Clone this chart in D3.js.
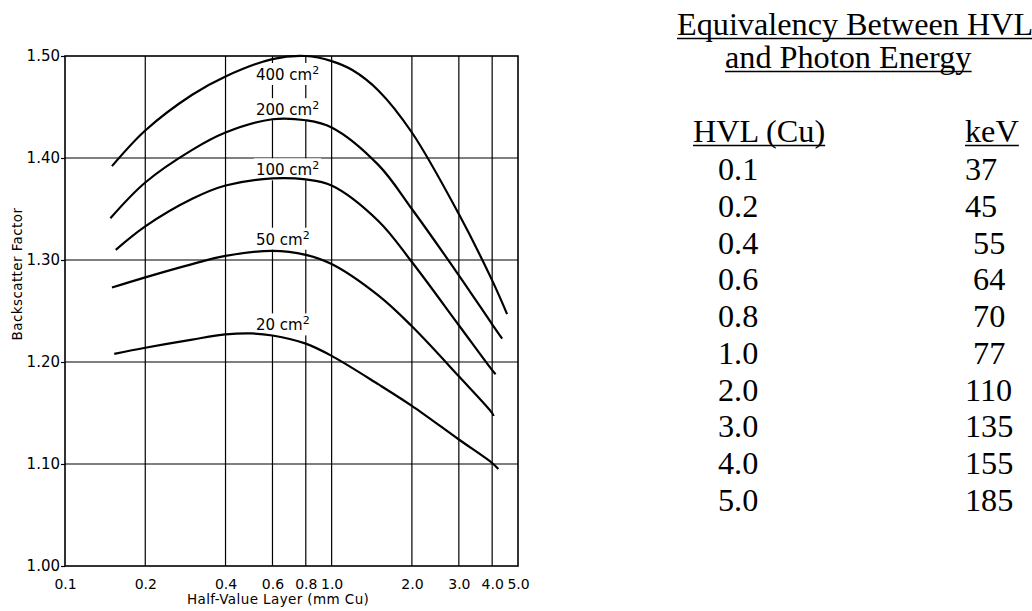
<!DOCTYPE html>
<html>
<head>
<meta charset="utf-8">
<script src="https://cdn.jsdelivr.net/npm/d3@7"></script>
<style>
  body { margin: 0; background: #fff; }
  svg { display: block; }
  .lbl { font-family: "DejaVu Sans", sans-serif; fill: #000; }
  .tbl { font-family: "Liberation Serif", "Times New Roman", serif; font-size: 31px; fill: #000; white-space: pre; }
</style>
</head>
<body>
<div id="chart"></div>
<script>
// axis ticks
let hvlTicks = [0.1, 0.2, 0.4, 0.6, 0.8, 1.0, 2.0, 3.0, 4.0, 5.0]
let hvlTickLabels = ["0.1", "0.2", "0.4", "0.6", "0.8", "1.0", "2.0", "3.0", "4.0", "5.0"]
let bsfTicks = [1.0, 1.1, 1.2, 1.3, 1.4, 1.5]
let bsfTickLabels = ["1.00", "1.10", "1.20", "1.30", "1.40", "1.50"]

// curves (HVL mm Cu -> backscatter factor)
let hvl400 = [0.15, 0.2, 0.3, 0.4, 0.6, 0.8, 1.0, 1.2, 1.5, 2.0, 3.0, 4.0, 4.55]
let bsf400 = [1.392, 1.427, 1.462, 1.480, 1.497, 1.500, 1.495, 1.486, 1.466, 1.425, 1.345, 1.28, 1.247]
let hvl200 = [0.148, 0.2, 0.3, 0.4, 0.6, 0.8, 1.0, 1.5, 2.0, 3.0, 4.0, 4.36]
let bsf200 = [1.341, 1.376, 1.408, 1.425, 1.438, 1.437, 1.430, 1.393, 1.35, 1.285, 1.237, 1.223]
let hvl100 = [0.155, 0.2, 0.3, 0.4, 0.6, 0.8, 1.0, 1.5, 2.0, 3.0, 4.0, 4.12]
let bsf100 = [1.310, 1.333, 1.360, 1.373, 1.380, 1.379, 1.373, 1.338, 1.298, 1.236, 1.192, 1.188]
let hvl50 = [0.15, 0.2, 0.3, 0.4, 0.6, 0.8, 1.0, 1.5, 2.0, 3.0, 4.0, 4.05]
let bsf50 = [1.273, 1.283, 1.296, 1.304, 1.309, 1.305, 1.296, 1.265, 1.235, 1.186, 1.150, 1.147]
let hvl20 = [0.153, 0.2, 0.3, 0.4, 0.5, 0.6, 0.8, 1.0, 1.5, 2.0, 3.0, 4.0, 4.22]
let bsf20 = [1.208, 1.214, 1.222, 1.227, 1.228, 1.226, 1.218, 1.206, 1.178, 1.157, 1.124, 1.101, 1.095]

// field size labels and where they sit
let fieldSizes = ["400", "200", "100", "50", "20"]
let labelHvl = 0.52
let labelBsf = [1.4765, 1.442, 1.383, 1.315, 1.231]

// table on the right
let tableHvl = ["0.1", "0.2", "0.4", "0.6", "0.8", "1.0", "2.0", "3.0", "4.0", "5.0"]
let tableKev = ["37", "45", " 55", " 64", " 70", " 77", "110", "135", "155", "185"]

let width = 1032,
  height = 611

let svg = d3.select("#chart").append("svg")
  .attr("width", width)
  .attr("height", height)

let x = d3.scaleLog()
  .domain([0.1, 5.0])
  .range([65, 518])

let y = d3.scaleLinear()
  .domain([1.0, 1.5])
  .range([566, 56])

// grid
svg.append("g").selectAll("line")
  .data(hvlTicks.slice(1, -1))
  .enter().append("line")
  .attr("x1", d => x(d)).attr("x2", d => x(d))
  .attr("y1", y(1.0)).attr("y2", y(1.5))
  .attr("stroke", "#000").attr("stroke-width", 1.2)

svg.append("g").selectAll("line")
  .data(bsfTicks.slice(1, -1))
  .enter().append("line")
  .attr("x1", x(0.1)).attr("x2", x(5.0))
  .attr("y1", d => y(d)).attr("y2", d => y(d))
  .attr("stroke", "#000").attr("stroke-width", 1.2)

// axes
let xAxis = d3.axisBottom(x)
  .tickValues(hvlTicks)
  .tickFormat((d, i) => hvlTickLabels[i])
  .tickSize(0)
  .tickPadding(13)

let yAxis = d3.axisLeft(y)
  .tickValues(bsfTicks)
  .tickFormat((d, i) => bsfTickLabels[i])
  .tickSize(4)
  .tickPadding(1)

let gx = svg.append("g").attr("transform", "translate(0," + y(1.0) + ")").call(xAxis)
let gy = svg.append("g").attr("transform", "translate(" + x(0.1) + ",0)").call(yAxis)
gx.select(".domain").remove()
gy.select(".domain").remove()
gx.selectAll("text").attr("class", "lbl").style("font-size", "14px").attr("fill", "#000")
gy.selectAll("text").attr("class", "lbl").style("font-size", "15px").attr("fill", "#000")
gy.selectAll("line").attr("stroke", "#000").attr("stroke-width", 1.2)

// frame
svg.append("rect")
  .attr("x", x(0.1)).attr("y", y(1.5))
  .attr("width", x(5.0) - x(0.1)).attr("height", y(1.0) - y(1.5))
  .attr("fill", "none").attr("stroke", "#000").attr("stroke-width", 1.6)

svg.append("text")
  .attr("class", "lbl")
  .attr("x", 187).attr("y", 604)
  .style("font-size", "13.5px")
  .style("letter-spacing", "0.4px")
  .text("Half-Value Layer (mm Cu)")

svg.append("text")
  .attr("class", "lbl")
  .attr("transform", "translate(22,274) rotate(-90)")
  .attr("text-anchor", "middle")
  .style("font-size", "13.5px")
  .style("letter-spacing", "0.4px")
  .text("Backscatter Factor")

// labels with white backing so the grid breaks around them
let labels = svg.append("g").selectAll("g")
  .data(fieldSizes)
  .enter().append("g")
  .attr("transform", (d, i) => "translate(" + x(labelHvl) + "," + y(labelBsf[i]) + ")")

labels.append("rect").attr("fill", "#fff")
let labelText = labels.append("text")
  .attr("class", "lbl")
  .style("font-size", "15px")
labelText.append("tspan").text(d => d + " cm")
labelText.append("tspan").attr("dy", -6).style("font-size", "11px").text("2")
labels.each(function () {
  let b = d3.select(this).select("text").node().getBBox()
  d3.select(this).select("rect")
    .attr("x", b.x - 2).attr("y", b.y - 1)
    .attr("width", b.width + 4).attr("height", b.height + 2)
})

// curves
let series = [
  d3.zip(hvl400, bsf400),
  d3.zip(hvl200, bsf200),
  d3.zip(hvl100, bsf100),
  d3.zip(hvl50, bsf50),
  d3.zip(hvl20, bsf20)
]

let line = d3.line()
  .x(d => x(d[0]))
  .y(d => y(d[1]))
  .curve(d3.curveCatmullRom.alpha(0.5))

svg.append("g").selectAll("path")
  .data(series)
  .enter().append("path")
  .attr("d", line)
  .attr("fill", "none")
  .attr("stroke", "#000")
  .attr("stroke-width", 2.2)

// table
let tbl = svg.append("g")

function tblText(tx, ty, str) {
  return tbl.append("text")
    .attr("class", "tbl")
    .attr("transform", "translate(" + tx + "," + ty + ") scale(1.04,1)")
    .text(str)
}

function underlined(tx, ty, str) {
  let t = tblText(tx, ty, str)
  let w = t.node().getBBox().width * 1.04
  tbl.append("line")
    .attr("x1", tx).attr("x2", tx + w)
    .attr("y1", ty + 3.5).attr("y2", ty + 3.5)
    .attr("stroke", "#000").attr("stroke-width", 1.6)
}

underlined(677, 35, "Equivalency Between HVL")
underlined(725, 68, "and Photon Energy")
underlined(693, 142, "HVL (Cu)")
underlined(965, 142, "keV")

tableHvl.forEach((d, i) => tblText(718, 180 + i * 36.75, d))
tableKev.forEach((d, i) => tblText(965, 180 + i * 36.75, d))
</script>
</body>
</html>
